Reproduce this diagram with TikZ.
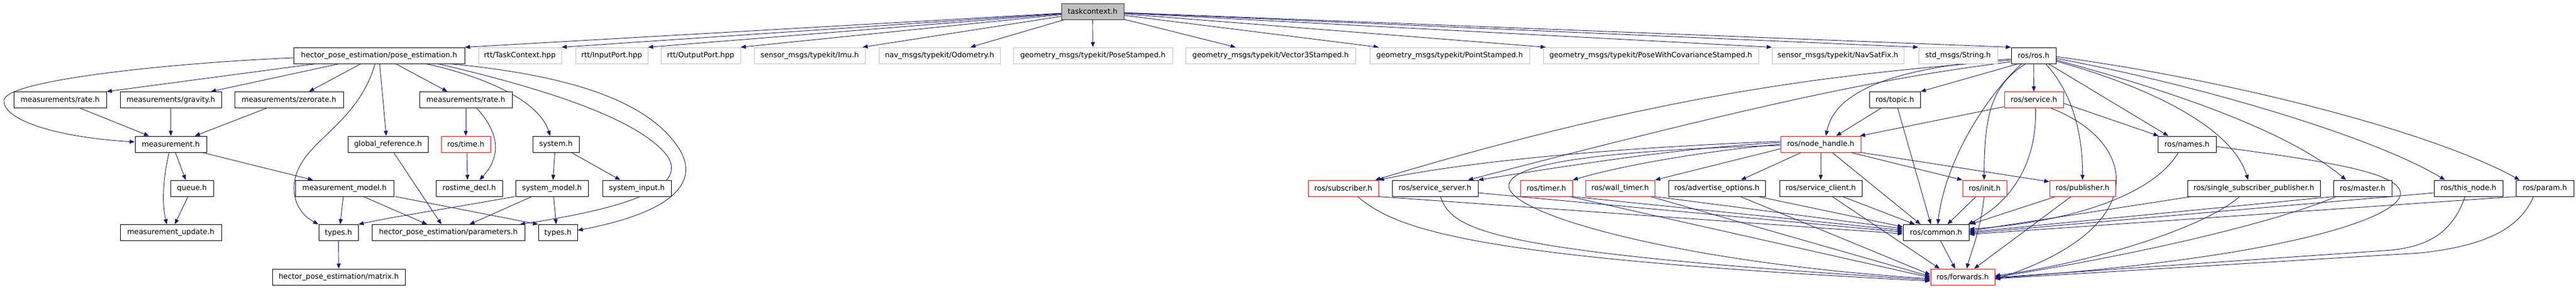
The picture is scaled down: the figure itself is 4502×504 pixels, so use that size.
\documentclass[tikz,border=0pt]{standalone}
\usepackage{fontspec}
\setmainfont{DejaVu Sans}
\usetikzlibrary{arrows.meta,backgrounds}
\definecolor{edgeblue}{HTML}{191970}
\definecolor{extgray}{HTML}{BFBFBF}
\definecolor{tcfill}{HTML}{BFBFBF}
\definecolor{redb}{HTML}{FF0000}
\tikzset{
  box/.style={draw=black, line width=1pt, fill=white, minimum height=28pt, inner sep=0pt, font=\fontsize{12.75}{15}\selectfont},
  ext/.style={box, draw=extgray},
  trunc/.style={box, draw=redb},
  e/.style={draw=edgeblue, line width=0.9pt, -{Triangle[length=9pt,width=7pt]}}
}
\begin{document}
\begin{tikzpicture}[x=1pt,y=-1pt]
\useasboundingbox (0,0) rectangle (4502,504);
% row 0
\node[box, fill=tcfill, draw=black!80, minimum width=109pt] (tc) at (1909.5,20) {taskcontext.h};
% row 1
\node[box, minimum width=299pt] (pe) at (662.5,97) {hector\_pose\_estimation/pose\_estimation.h};
\node[ext, minimum width=145pt] (rttc) at (908.5,97) {rtt/TaskContext.hpp};
\node[ext, minimum width=126pt] (rtin) at (1069,97) {rtt/InputPort.hpp};
\node[ext, minimum width=139pt] (rtout) at (1224.5,97) {rtt/OutputPort.hpp};
\node[ext, minimum width=194pt] (imu) at (1415,97) {sensor\_msgs/typekit/Imu.h};
\node[ext, minimum width=212pt] (odo) at (1642,97) {nav\_msgs/typekit/Odometry.h};
\node[ext, minimum width=278pt] (ps) at (1910,97) {geometry\_msgs/typekit/PoseStamped.h};
\node[ext, minimum width=297pt] (v3) at (2220.5,97) {geometry\_msgs/typekit/Vector3Stamped.h};
\node[ext, minimum width=279pt] (pts) at (2533.5,97) {geometry\_msgs/typekit/PointStamped.h};
\node[ext, minimum width=376pt] (pwc) at (2885,97) {geometry\_msgs/typekit/PoseWithCovarianceStamped.h};
\node[ext, minimum width=230pt] (nsf) at (3212,97) {sensor\_msgs/typekit/NavSatFix.h};
\node[ext, minimum width=138pt] (str) at (3422,97) {std\_msgs/String.h};
\node[box, minimum width=78pt] (ros) at (3554,97) {ros/ros.h};
% row 2
\node[box, minimum width=162pt] (mr1) at (105,174.5) {measurements/rate.h};
\node[box, minimum width=177pt] (mg) at (298.5,174.5) {measurements/gravity.h};
\node[box, minimum width=190pt] (mz) at (505,174.5) {measurements/zerorate.h};
\node[box, minimum width=162pt] (mr2) at (814,174.5) {measurements/rate.h};
\node[box, minimum width=89pt] (topic) at (3311.5,174.5) {ros/topic.h};
\node[trunc, minimum width=103pt] (service) at (3554.5,174.5) {ros/service.h};
% row 3
\node[box, minimum width=125pt] (meas) at (298.5,252) {measurement.h};
\node[box, minimum width=140pt] (gref) at (678,252) {global\_reference.h};
\node[trunc, minimum width=86pt] (rtime) at (814,252) {ros/time.h};
\node[box, minimum width=81pt] (sys) at (971.5,252) {system.h};
\node[trunc, minimum width=140pt] (nh) at (3182,252) {ros/node\_handle.h};
\node[box, minimum width=102pt] (names) at (3822,252) {ros/names.h};
% row 4
\node[box, minimum width=75pt] (queue) at (335.5,329) {queue.h};
\node[box, minimum width=172pt] (mm) at (602,329) {measurement\_model.h};
\node[box, minimum width=116pt] (rtd) at (820,329) {rostime\_decl.h};
\node[box, minimum width=127pt] (sm) at (964.5,329) {system\_model.h};
\node[box, minimum width=120pt] (si) at (1113,329) {system\_input.h};
\node[trunc, minimum width=123pt] (sub) at (2347.5,329) {ros/subscriber.h};
\node[box, minimum width=150pt] (ss) at (2508,329) {ros/service\_server.h};
\node[trunc, minimum width=91pt] (timer) at (2702.5,329) {ros/timer.h};
\node[trunc, minimum width=121pt] (wt) at (2831.5,329) {ros/wall\_timer.h};
\node[box, minimum width=169pt] (ao) at (3000.5,329) {ros/advertise\_options.h};
\node[box, minimum width=144pt] (sc) at (3182,329) {ros/service\_client.h};
\node[trunc, minimum width=77pt] (init) at (3468.5,329) {ros/init.h};
\node[trunc, minimum width=115pt] (pub) at (3639.5,329) {ros/publisher.h};
\node[box, minimum width=232pt] (ssp) at (3939,329) {ros/single\_subscriber\_publisher.h};
\node[box, minimum width=102pt] (master) at (4129,329) {ros/master.h};
\node[box, minimum width=120pt] (tn) at (4314,329) {ros/this\_node.h};
\node[box, minimum width=101pt] (param) at (4447.5,329) {ros/param.h};
% row 5
\node[box, minimum width=177pt] (mu) at (298.5,406.5) {measurement\_update.h};
\node[box, minimum width=69pt] (t1) at (591.5,406.5) {types.h};
\node[box, minimum width=267pt] (par) at (783.5,406.5) {hector\_pose\_estimation/parameters.h};
\node[box, minimum width=68pt] (t2) at (975,406.5) {types.h};
\node[box, minimum width=115pt] (common) at (3383.5,406.5) {ros/common.h};
% row 6
\node[box, minimum width=232pt] (matrix) at (592,484) {hector\_pose\_estimation/matrix.h};
\node[trunc, minimum width=112pt] (fwd) at (3430,484) {ros/forwards.h};

\begin{pgfonlayer}{background}
% taskcontext
\draw[e] (tc) -- (pe.north east);
\draw[e] (tc) -- (rttc.north east);
\draw[e] (tc) -- (rtin.north east);
\draw[e] (tc) -- (rtout.north east);
\draw[e] (tc) -- ([xshift=-5pt]imu.north east);
\draw[e] (tc) -- ([xshift=54pt]odo.north);
\draw[e] (tc) -- (ps.north);
\draw[e] (tc) -- ([xshift=-61pt]v3.north);
\draw[e] (tc) -- ([xshift=16pt]pts.north west);
\draw[e] (tc) -- ([xshift=5pt]pwc.north west);
\draw[e] (tc) -- (nsf.north west);
\draw[e] (tc) -- (str.north west);
\draw[e] (tc) -- (ros.north west);
% pose_estimation
\draw[e] ([yshift=-4pt]pe.west) .. controls (300,110) and (10,140) .. (7,175) .. controls (4,210) and (100,240) .. ([yshift=4pt]meas.west);
\draw[e] ([xshift=-111pt]pe.south) -- (mr1.north east);
\draw[e] ([xshift=-70pt]pe.south) -- ([xshift=-19pt]mg.north east);
\draw[e] ([xshift=-32pt]pe.south) -- ([xshift=35pt]mz.north);
\draw[e] ([xshift=-7pt]pe.south) .. controls (630,200) and (560,235) .. (530,280) .. controls (500,325) and (515,370) .. (t1.north west);
\draw[e] ([xshift=1pt]pe.south) -- ([xshift=-3pt]gref.north);
\draw[e] ([xshift=29pt]pe.south) -- ([xshift=-32pt]mr2.north);
\draw[e] ([xshift=82pt]pe.south) .. controls (830,130) and (940,170) .. ([xshift=-10pt]sys.north);
\draw[e] ([xshift=103pt]pe.south) .. controls (930,150) and (1100,200) .. (1160,265) .. controls (1210,320) and (1120,360) .. ([xshift=-9pt]par.north east);
\draw[e] ([xshift=124pt]pe.south) .. controls (980,130) and (1120,170) .. (1180,250) .. controls (1230,315) and (1180,370) .. ([yshift=4pt]t2.east);
% measurements
\draw[e] ([xshift=35pt]mr1.south) -- ([xshift=-38pt]meas.north);
\draw[e] (mg.south) -- (meas.north);
\draw[e] ([xshift=-39pt]mz.south) -- ([xshift=42pt]meas.north);
\draw[e] (mr2.south) -- (rtime.north);
\draw[e] ([xshift=19pt]mr2.south) .. controls (880,240) and (870,280) .. ([xshift=18pt]rtd.north);
\draw[e] ([xshift=2pt]rtime.south) -- ([xshift=-3pt]rtd.north);
\draw[e] ([xshift=8pt]meas.south) -- ([xshift=-11pt]queue.north);
\draw[e] ([xshift=-3pt]meas.south) .. controls (283,320) and (284,360) .. ([xshift=-7pt]mu.north);
\draw[e] ([xshift=55pt]meas.south) -- ([xshift=-55pt]mm.north);
\draw[e] ([xshift=-7pt]queue.south) -- ([xshift=7pt]mu.north);
\draw[e] ([xshift=10pt]gref.south) -- ([xshift=-12pt]par.north);
\draw[e] ([xshift=-2pt]sys.south) -- ([xshift=2pt]sm.north);
\draw[e] ([xshift=27pt]sys.south) -- ([xshift=-29pt]si.north);
\draw[e] ([xshift=-2pt]mm.south) -- ([xshift=3pt]t1.north);
\draw[e] ([xshift=33pt]mm.south) -- ([xshift=-37pt]par.north);
\draw[e] ([xshift=89pt]mm.south) -- (t2.north west);
\draw[e] ([xshift=-65pt]sm.south) .. controls (780,365) and (680,380) .. (t1.north east);
\draw[e] ([xshift=-35pt]sm.south) -- ([xshift=37pt]par.north);
\draw[e] ([xshift=3pt]sm.south) -- ([xshift=-3pt]t2.north);
\draw[e] (t1.south) -- (matrix.north);
% ros/ros.h
\draw[e] ([xshift=-27pt]ros.south) -- (topic.north east);
\draw[e] (ros.south) -- (service.north);
\draw[e] ([yshift=-6pt]ros.west) .. controls (3280,120) and (3205,170) .. ([xshift=9pt]nh.north);
\draw[e] ([yshift=-8pt]ros.west) .. controls (3250,128) and (2950,150) .. ([xshift=-6pt]sub.north east);
\draw[e] ([yshift=-11pt]ros.west) .. controls (3300,135) and (3100,175) .. ([xshift=-18pt]ss.north east);
\draw[e] ([xshift=-21pt]ros.south) .. controls (3470,170) and (3400,280) .. ([xshift=3pt]common.north);
\draw[e] ([xshift=-14pt]ros.south) .. controls (3480,150) and (3468,200) .. ([xshift=-1pt]init.north);
\draw[e] ([xshift=21pt]ros.south) .. controls (3620,160) and (3640,230) .. (pub.north);
\draw[e] ([xshift=26pt]ros.south) -- ([xshift=19pt]names.north west);
\draw[e] ([yshift=-10pt]ros.east) .. controls (3750,150) and (3900,220) .. ([xshift=-10pt]ssp.north);
\draw[e] ([yshift=-8pt]ros.east) .. controls (3800,160) and (4000,230) .. ([xshift=-29pt]master.north);
\draw[e] ([yshift=-5pt]ros.east) .. controls (3850,150) and (4150,240) .. ([xshift=-41pt]tn.north);
\draw[e] ([yshift=-2pt]ros.east) .. controls (3900,140) and (4250,230) .. ([xshift=-44pt]param.north);
% topic, service, names
\draw[e] ([xshift=-24pt]topic.south) -- ([xshift=27pt]nh.north);
\draw[e] ([xshift=5pt]topic.south) -- ([xshift=-9pt]common.north);
\draw[e] ([yshift=-12pt]service.west) -- ([xshift=-2pt]nh.north east);
\draw[e] ([xshift=3pt]service.south) .. controls (3560,280) and (3520,350) .. ([xshift=-2pt]common.north east);
\draw[e] ([xshift=30pt]service.south) .. controls (3740,250) and (3760,400) .. ([yshift=-4pt]fwd.east);
\draw[e] ([yshift=-6pt]service.east) -- ([xshift=2pt]names.north west);
\draw[e] ([xshift=-15pt]names.south) .. controls (3770,330) and (3650,385) .. ([yshift=6pt]common.east);
\draw[e] ([yshift=-4pt]names.east) .. controls (4050,280) and (4200,300) .. (4195,340) .. controls (4190,380) and (4000,450) .. ([yshift=-2pt]fwd.east);
% node_handle
\draw[e] (nh.south) -- (sc.north);
\draw[e] ([xshift=20pt]nh.south) -- ([xshift=-27pt]common.north);
\draw[e] ([xshift=53pt]nh.south) -- (init.north west);
\draw[e] (nh.south east) -- ([yshift=-3pt]pub.north west);
\draw[e] ([xshift=-34pt]nh.south) -- ([xshift=42pt]ao.north);
\draw[e] ([yshift=5pt]nh.west) .. controls (2900,255) and (2600,275) .. (sub.north east);
\draw[e] ([yshift=3pt]nh.west) .. controls (2950,258) and (2800,280) .. (ss.north east);
\draw[e] ([yshift=0pt]nh.west) .. controls (3000,262) and (2850,285) .. (timer.north east);
\draw[e] ([yshift=-8pt]nh.west) -- (wt.north east);
\draw[e] ([yshift=-2pt]nh.west) .. controls (2850,262) and (2620,280) .. (2638,330) .. controls (2656,380) and (2950,460) .. ([yshift=-3pt]fwd.west);
% row 4 -> common / forwards
\draw[e] (sub.south east) -- ([yshift=-2pt]common.west);
\draw[e] ([xshift=25pt]sub.south) .. controls (2440,400) and (2560,450) .. ([yshift=-7pt]fwd.west);
\draw[e] ([yshift=-8pt]ss.east) -- ([yshift=1pt]common.west);
\draw[e] ([xshift=9pt]ss.south) .. controls (2540,400) and (2580,440) .. ([yshift=-5pt]fwd.west);
\draw[e] (timer.south east) -- ([yshift=4pt]common.west);
\draw[e] ([xshift=-5pt]timer.south east) -- ([yshift=-1pt]fwd.west);
\draw[e] (wt.south east) -- ([yshift=7pt]common.west);
\draw[e] ([xshift=-8pt]wt.south east) -- ([yshift=1pt]fwd.west);
\draw[e] ([xshift=72pt]ao.south) -- ([yshift=10pt]common.west);
\draw[e] ([xshift=41pt]ao.south) -- ([yshift=4pt]fwd.west);
\draw[e] ([xshift=38pt]sc.south) -- ([xshift=-37pt]common.north);
\draw[e] ([xshift=20pt]sc.south) -- ([xshift=-40pt]fwd.north);
\draw[e] ([xshift=-15pt]init.south) -- ([xshift=20pt]common.north);
\draw[e] ([xshift=-1pt]init.south) .. controls (3462,400) and (3445,440) .. ([xshift=7pt]fwd.north);
\draw[e] ([xshift=-47pt]pub.south) -- ([xshift=2pt]common.north east);
\draw[e] ([xshift=-20pt]pub.south) -- ([xshift=20pt]fwd.north);
\draw[e] ([xshift=8pt]common.south) -- ([xshift=-13pt]fwd.north);
\draw[e] ([xshift=-109pt]ssp.south) -- ([yshift=3pt]common.east);
\draw[e] ([xshift=-25pt]ssp.south) .. controls (3850,400) and (3650,460) .. ([yshift=2pt]fwd.east);
\draw[e] (master.south west) -- ([yshift=1pt]common.east);
\draw[e] ([xshift=-46pt]master.south) .. controls (3950,400) and (3650,460) .. ([yshift=0pt]fwd.east);
\draw[e] ([yshift=-8pt]tn.west) -- ([yshift=-1pt]common.east);
\draw[e] ([xshift=-6pt]tn.south) .. controls (4285,410) and (4240,430) .. (4180,437) -- ([yshift=-1pt]fwd.east);
\draw[e] (param.south west) -- ([yshift=-3pt]common.east);
\draw[e] ([xshift=-20pt]param.south) .. controls (4400,410) and (4320,432) .. (4230,442) -- ([yshift=-3pt]fwd.east);
\end{pgfonlayer}
\end{tikzpicture}
\end{document}
